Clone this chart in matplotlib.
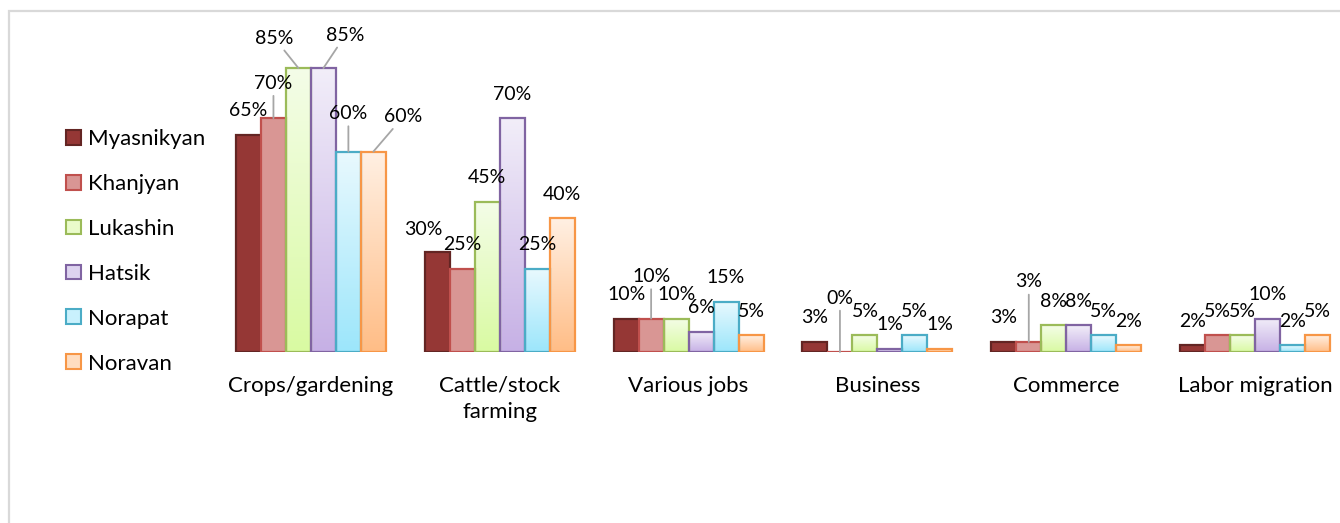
import numpy as np
import matplotlib
matplotlib.use('Agg')
import matplotlib.pyplot as plt
from matplotlib.colors import LinearSegmentedColormap
from matplotlib.patches import Patch, Rectangle

plt.rcParams['font.family'] = ['Lato', 'DejaVu Sans']

# share of households by main income source, per community
categories = ['Crops/gardening', 'Cattle/stock\nfarming', 'Various jobs',
              'Business', 'Commerce', 'Labor migration']
communities = ['Myasnikyan', 'Khanjyan', 'Lukashin', 'Hatsik', 'Norapat', 'Noravan']

myasnikyan = [0.65, 0.30, 0.10, 0.03, 0.03, 0.02]
khanjyan = [0.70, 0.25, 0.10, 0.00, 0.03, 0.05]
lukashin = [0.85, 0.45, 0.10, 0.05, 0.08, 0.05]
hatsik = [0.85, 0.70, 0.06, 0.01, 0.08, 0.10]
norapat = [0.60, 0.25, 0.15, 0.05, 0.05, 0.02]
noravan = [0.60, 0.40, 0.05, 0.01, 0.02, 0.05]
series = [myasnikyan, khanjyan, lukashin, hatsik, norapat, noravan]

# face colours: a single colour is flat, a pair is a top->bottom gradient
faces = ['#953735', '#D99694', ('#F4FDE8', '#D9FAA2'), ('#F2EEF9', '#C6B0E5'),
         ('#E9F9FE', '#9CE6FB'), ('#FFF0E3', '#FFBD86')]
edges = ['#632523', '#C0504D', '#9BBB59', '#8064A2', '#4BACC6', '#F79646']
legend_faces = ['#953735', '#D99694', '#EAFBCB', '#DDD3EF', '#C9F1FD', '#FFDDC0']

# hand-placed data labels: (category, series) -> (dx, dy) in pixels, leader line
label_moves = {
    (0, 1): (0, 35, True), (0, 2): (-24, 30, True), (0, 3): (22, 33, True),
    (0, 4): (0, 38, True), (0, 5): (30, 35, True), (1, 0): (-14, 22, False),
    (2, 1): (0, 42, True), (3, 1): (0, 54, True), (4, 1): (0, 60, True),
}

fig = plt.figure(figsize=(13.4, 5.23), dpi=100)
ax = fig.add_axes([216.5 / 1340, 171 / 523, 1133 / 1340, 0.9 * 334 / 523])

x = np.arange(len(categories))
w = 25 / 189
for j, vals in enumerate(series):
    pos = x + (j - 2.5) * w
    face = faces[j]
    flat = isinstance(face, str)
    bars = ax.bar(pos, vals, width=w, facecolor=face if flat else 'none',
                  edgecolor=edges[j], linewidth=1.6, zorder=3)
    if not flat:
        cmap = LinearSegmentedColormap.from_list('g%d' % j, [face[1], face[0]])
        grad = np.linspace(0, 1, 256).reshape(-1, 1)
        for b in bars:
            if b.get_height() <= 0:
                continue
            im = ax.imshow(grad, extent=[b.get_x(), b.get_x() + w, 0, b.get_height()],
                           origin='lower', aspect='auto', cmap=cmap, zorder=2)
            im.set_clip_path(b)
    for i, v in enumerate(vals):
        dx, dy, leader = label_moves.get((i, j), (0, 24, False))
        props = None
        if leader:
            props = dict(arrowstyle='-', color='#A6A6A6', lw=1.3, shrinkA=1, shrinkB=0)
        ax.annotate('%d%%' % round(v * 100), xy=(pos[i], v), xytext=(dx, dy),
                    textcoords='offset pixels', ha='center', va='center',
                    fontsize=14, color='#000000', arrowprops=props, zorder=4)

ax.set_xlim(-0.5, len(categories) - 0.5)
ax.set_ylim(0, 0.9)
ax.set_xticks(x)
ax.set_xticklabels(categories, fontsize=16, linespacing=1.4, va='top')
ax.tick_params(axis='x', length=0, pad=17)
ax.set_yticks([])
for s in ax.spines.values():
    s.set_visible(False)
ax.patch.set_alpha(0)

handles = [Patch(facecolor=legend_faces[k], edgecolor=edges[k], linewidth=1.5)
           for k in range(len(communities))]
fig.legend(handles, communities, loc='upper left', bbox_to_anchor=(55 / 1340, 1 - 118 / 523),
           frameon=False, fontsize=16, handlelength=0.65, handleheight=0.65,
           handletextpad=0.35, labelspacing=1.12, borderpad=0)

# chart frame
fig.patches.append(Rectangle((9 / 1340, -0.05), 1.2, 1 - 11 / 523 + 0.05,
                             transform=fig.transFigure, fill=False,
                             edgecolor='#D9D9D9', linewidth=1.6))

fig.savefig('out.png', dpi=100)
